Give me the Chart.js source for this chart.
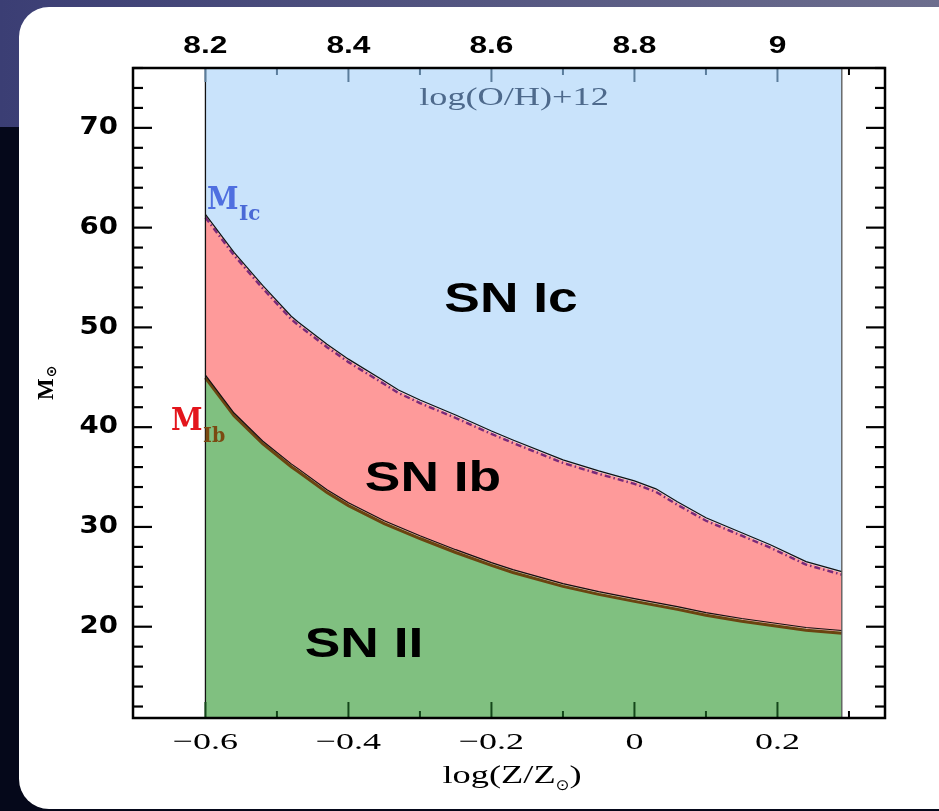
<!DOCTYPE html>
<html><head><meta charset="utf-8">
<style>
html,body{margin:0;padding:0;width:939px;height:811px;overflow:hidden;}
body{background:
  linear-gradient(to bottom, rgba(0,0,0,0) 0, rgba(0,0,0,0) 127px, #05081a 127px),
  linear-gradient(to right, #3b3e74, #6d6e8e);}
#panel{position:absolute;left:19px;top:7px;width:960px;height:802px;background:#fff;border-radius:30px;}
#wrap{position:absolute;left:0;top:0;width:939px;height:811px;}
</style>
<script src="https://cdn.jsdelivr.net/npm/chart.js@4.4.1/dist/chart.umd.min.js"></script>
</head><body>
<div id="panel"></div>
<div id="wrap"><canvas id="c" width="939" height="811"></canvas></div>
<script>
// log(Z/Zsun)
const metallicity = [-0.60, -0.56, -0.52, -0.48, -0.47, -0.43, -0.40, -0.35, -0.33, -0.30, -0.25, -0.20, -0.17, -0.10, -0.05, 0.00, 0.03, 0.06, 0.10, 0.15, 0.19, 0.24, 0.29];
// M_Ic : boundary SN Ib / SN Ic (Msun)
const massIc = [61.2, 57.4, 54.1, 51.0, 50.4, 48.2, 46.7, 44.5, 43.6, 42.6, 41.1, 39.5, 38.6, 36.6, 35.5, 34.5, 33.7, 32.4, 30.8, 29.3, 28.1, 26.4, 25.4];
// M_Ib : boundary SN II / SN Ib (Msun)
const massIb = [45.1, 41.3, 38.5, 36.2, 35.7, 33.6, 32.3, 30.5, 29.9, 29.0, 27.6, 26.3, 25.6, 24.2, 23.4, 22.7, 22.3, 21.9, 21.3, 20.7, 20.3, 19.8, 19.5];

const xTickValues = [-0.6, -0.4, -0.2, 0, 0.2];
const xTickLabels = ['\u22120.6', '\u22120.4', '\u22120.2', '0', '0.2'];
const ohTickValues = [8.2, 8.4, 8.6, 8.8, 9.0];
const ohTickLabels = ['8.2', '8.4', '8.6', '8.8', '9'];
const yTickValues = [20, 30, 40, 50, 60, 70];
const yTickLabels = ['20', '30', '40', '50', '60', '70'];

const X_MIN = -0.7013, X_MAX = 0.3504, Y_MIN = 10.85, Y_MAX = 76.0, OH_OFFSET = 8.8;

const pts = (ys) => metallicity.map((x, i) => ({x: x, y: ys[i]}));

const COL_IC = '#c9e3fb', COL_IB = '#fe9a9a', COL_II = '#80c080';

function stretchText(ctx, s, x, y, font, color, sx, align, baseline) {
  ctx.save();
  ctx.font = font; ctx.fillStyle = color;
  ctx.textAlign = align || 'center'; ctx.textBaseline = baseline || 'alphabetic';
  ctx.translate(x, y); ctx.scale(sx, 1);
  ctx.fillText(s, 0, 0);
  ctx.restore();
}

const stretchMap = { x: 1.5, x2: 1.38, y: 1.15 };

const decor = {
  id: 'decor',
  beforeDraw(chart) {
    for (const id in stretchMap) {
      const sc = chart.scales[id];
      if (!sc || sc._stretched) continue;
      sc._stretched = true;
      const orig = sc.drawLabels;
      const f = stretchMap[id];
      sc.drawLabels = function (area) {
        const ctx = this.ctx;
        const of = CanvasRenderingContext2D.prototype.fillText;
        ctx.fillText = function (t, x, y) {
          ctx.save(); ctx.translate(x, y); ctx.scale(f, 1); of.call(ctx, t, 0, 0); ctx.restore();
        };
        try { orig.call(this, area); } finally { delete ctx.fillText; }
      };
    }
  },
  beforeDatasetDraw(chart, args) {
    const ds = chart.data.datasets[args.index];
    if (ds.shiftY) { chart.ctx.save(); chart.ctx.translate(0, ds.shiftY); }
  },
  afterDatasetDraw(chart, args) {
    const ds = chart.data.datasets[args.index];
    if (ds.shiftY) chart.ctx.restore();
  },
  afterDatasetsDraw(chart) {
    const ctx = chart.ctx, a = chart.chartArea;
    const xs = chart.scales.x, ys = chart.scales.y, x2 = chart.scales.x2;
    const fillL = xs.getPixelForValue(metallicity[0]);
    const fillR = xs.getPixelForValue(metallicity[metallicity.length - 1]);
    ctx.save();
    ctx.lineWidth = 1.3;
    ctx.strokeStyle = '#111';
    ctx.beginPath(); ctx.moveTo(fillL, a.top); ctx.lineTo(fillL, a.bottom); ctx.stroke();
    ctx.strokeStyle = '#555';
    ctx.beginPath(); ctx.moveTo(fillR, a.top); ctx.lineTo(fillR, a.bottom); ctx.stroke();

    const line = (x1, y1, x2_, y2, c, w) => { ctx.strokeStyle = c; ctx.lineWidth = w; ctx.beginPath(); ctx.moveTo(x1, y1); ctx.lineTo(x2_, y2); ctx.stroke(); };
    for (let v = 12; v <= 76; v += 2) {
      const p = ys.getPixelForValue(v);
      const major = v % 10 === 0;
      const L = major ? 19 : 10;
      line(a.left, p, a.left + L, p, '#000', 2.2);
      line(a.right, p, a.right - L, p, '#000', 2.2);
    }
    for (let k = -6; k <= 3; k++) {
      const v = k / 10;
      const p = xs.getPixelForValue(v);
      const major = k % 2 === 0;
      const inside = p >= fillL - 1 && p <= fillR + 1;
      line(p, a.bottom, p, a.bottom - (major ? 16 : 7), inside ? '#14471a' : '#000', 2);
    }
    for (let k = 82; k <= 91; k++) {
      const v = k / 10;
      const p = x2.getPixelForValue(v);
      const major = k % 2 === 0;
      const inside = p >= fillL - 1 && p <= fillR + 1;
      line(p, a.top, p, a.top + (major ? 14 : 7), inside ? '#5b7d9c' : '#000', 2);
    }
    ctx.lineWidth = 2.5; ctx.strokeStyle = '#000';
    ctx.strokeRect(a.left, a.top, a.right - a.left, a.bottom - a.top);
    ctx.restore();
  },
  afterDraw(chart) {
    const ctx = chart.ctx;
    const sn = 'bold 42px "Liberation Sans", Arial, sans-serif';
    stretchText(ctx, 'SN Ic', 511, 312, sn, '#000', 1.27);
    stretchText(ctx, 'SN Ib', 433, 491, sn, '#000', 1.27);
    stretchText(ctx, 'SN II', 364, 657, sn, '#000', 1.27);

    stretchText(ctx, 'log(O/H)+12', 514, 105, '25px "Liberation Serif", serif', '#4e6a8c', 1.45);

    stretchText(ctx, 'M', 207, 209, 'bold 31px "DejaVu Serif", serif', '#4f6fe0', 0.92, 'left');
    stretchText(ctx, 'Ic', 239, 220, 'bold 21px "DejaVu Serif", serif', '#4a69d6', 0.95, 'left');
    stretchText(ctx, 'M', 171, 430, 'bold 31px "DejaVu Serif", serif', '#e3151c', 0.92, 'left');
    stretchText(ctx, 'Ib', 203, 442, 'bold 20px "DejaVu Serif", serif', '#7b4a12', 0.95, 'left');

    ctx.save();
    const f1 = '26px "Liberation Serif", serif', f2 = '15px "DejaVu Sans", sans-serif';
    const s = 1.4;
    ctx.font = f1;
    const wA = ctx.measureText('log(Z/Z').width * s;
    const wC = ctx.measureText(')').width * s;
    ctx.font = f2;
    const wB = ctx.measureText('\u2299').width * 1.1;
    const total = wA + wB + wC;
    const x0 = 512 - total / 2;
    ctx.restore();
    stretchText(ctx, 'log(Z/Z', x0, 783, f1, '#000', s, 'left');
    stretchText(ctx, '\u2299', x0 + wA, 790, f2, '#000', 1.1, 'left');
    stretchText(ctx, ')', x0 + wA + wB, 783, f1, '#000', s, 'left');

    ctx.save();
    ctx.translate(53, 400);
    ctx.rotate(-Math.PI / 2);
    ctx.fillStyle = '#000';
    ctx.font = 'bold 23px "Liberation Serif", serif';
    ctx.textAlign = 'left'; ctx.textBaseline = 'alphabetic';
    ctx.fillText('M', 0, 0);
    const wm = ctx.measureText('M').width;
    ctx.font = 'bold 14px "DejaVu Sans", sans-serif';
    ctx.fillText('\u2299', wm + 1, 3);
    ctx.restore();
  }
};

const ctx = document.getElementById('c').getContext('2d');
new Chart(ctx, {
  type: 'line',
  data: {
    datasets: [
      { label: 'M_Ib line', data: pts(massIb), borderColor: '#111', borderWidth: 1.2, fill: false, shiftY: -1.2 },
      { label: 'M_Ic line', data: pts(massIc), borderColor: '#111', borderWidth: 1.2, fill: false, shiftY: -1.2 },
      { label: 'M_Ic model', data: pts(massIc), borderColor: '#7a2a7a', borderWidth: 2.4, borderDash: [6, 3, 1.5, 3], fill: false, shiftY: 1.8 },
      { label: 'M_Ib model', data: pts(massIb), borderColor: '#6b4410', borderWidth: 3, fill: false, shiftY: 1.6 },
      { label: 'SN II', data: pts(massIb), borderWidth: 0, borderColor: 'rgba(0,0,0,0)', backgroundColor: COL_II, fill: 'start' },
      { label: 'SN Ib', data: pts(massIc), borderWidth: 0, borderColor: 'rgba(0,0,0,0)', backgroundColor: COL_IB, fill: '-1' },
      { label: 'SN Ic', data: pts(massIc), borderWidth: 0, borderColor: 'rgba(0,0,0,0)', backgroundColor: COL_IC, fill: 'end' }
    ]
  },
  options: {
    responsive: false,
    animation: false,
    layout: { padding: { left: 0, right: 54, top: 0, bottom: 0 } },
    elements: { point: { radius: 0 }, line: { tension: 0 } },
    plugins: { legend: { display: false }, tooltip: { enabled: false } },
    scales: {
      x: {
        type: 'linear', position: 'bottom', min: X_MIN, max: X_MAX,
        afterFit: (s) => { s.height = 93; },
        afterBuildTicks: (s) => { s.ticks = xTickValues.map(v => ({ value: v })); },
        grid: { display: false, drawTicks: false }, border: { display: false },
        ticks: { padding: 10, color: '#000', maxRotation: 0, minRotation: 0, autoSkip: false,
          font: { family: '"Liberation Serif", serif', size: 24 },
          callback: (v, i) => xTickLabels[i] }
      },
      x2: {
        type: 'linear', axis: 'x', position: 'top', min: X_MIN + OH_OFFSET, max: X_MAX + OH_OFFSET,
        afterFit: (s) => { s.height = 68; },
        afterBuildTicks: (s) => { s.ticks = ohTickValues.map(v => ({ value: v })); },
        grid: { display: false, drawTicks: false }, border: { display: false },
        ticks: { padding: 8, color: '#000', maxRotation: 0, minRotation: 0, autoSkip: false,
          font: { family: '"Liberation Sans", Arial, sans-serif', size: 23, weight: 'bold' },
          callback: (v, i) => ohTickLabels[i] }
      },
      y: {
        type: 'linear', position: 'left', min: Y_MIN, max: Y_MAX,
        afterFit: (s) => { s.width = 133; },
        afterBuildTicks: (s) => { s.ticks = yTickValues.map(v => ({ value: v })); },
        grid: { display: false, drawTicks: false }, border: { display: false },
        ticks: { padding: 15, color: '#000', autoSkip: false,
          font: { family: '"DejaVu Sans", sans-serif', size: 24, weight: 'bold' },
          callback: (v, i) => yTickLabels[i] }
      }
    }
  },
  plugins: [decor]
});
</script>
</body></html>
